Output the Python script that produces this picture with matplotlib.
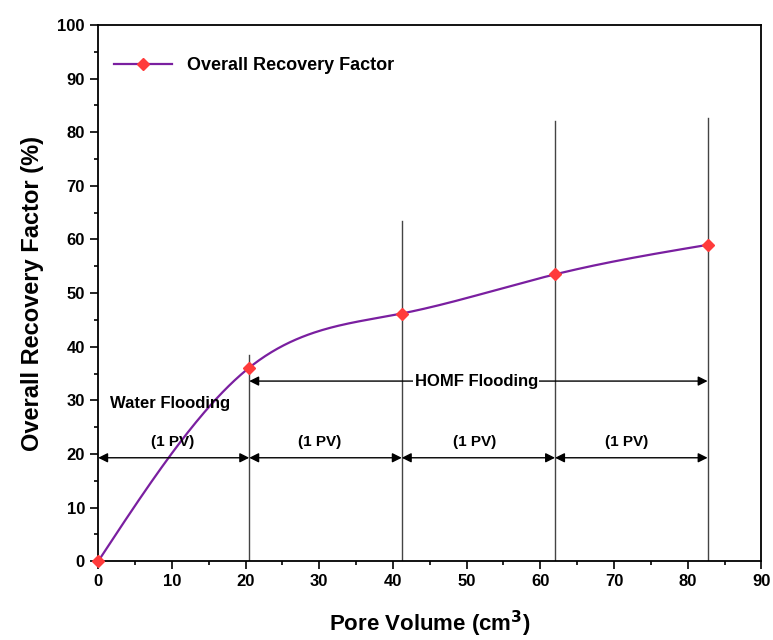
import numpy as np
import matplotlib.pyplot as plt

# data
pore_volume = [0, 20.5, 41.2, 62.0, 82.7]
recovery = [0, 36.1, 46.2, 53.5, 59.0]
line_tops = [38.4, 63.4, 82.1, 82.6]
pv_label_x = [10.1, 30.1, 51.1, 71.7]


def natural_spline(x, y, n=300):
    x = np.asarray(x, float)
    y = np.asarray(y, float)
    k = len(x)
    h = np.diff(x)
    A = np.zeros((k, k))
    b = np.zeros(k)
    A[0, 0] = A[-1, -1] = 1
    for i in range(1, k - 1):
        A[i, i - 1] = h[i - 1]
        A[i, i] = 2 * (h[i - 1] + h[i])
        A[i, i + 1] = h[i]
        b[i] = 6 * ((y[i + 1] - y[i]) / h[i] - (y[i] - y[i - 1]) / h[i - 1])
    m = np.linalg.solve(A, b)
    xs = np.linspace(x[0], x[-1], n)
    idx = np.clip(np.searchsorted(x, xs) - 1, 0, k - 2)
    x0, x1 = x[idx], x[idx + 1]
    hh = x1 - x0
    t0, t1 = x1 - xs, xs - x0
    ys = (m[idx] * t0 ** 3 + m[idx + 1] * t1 ** 3) / (6 * hh) \
        + (y[idx] / hh - m[idx] * hh / 6) * t0 \
        + (y[idx + 1] / hh - m[idx + 1] * hh / 6) * t1
    return xs, ys


plt.rcParams['font.family'] = ['Liberation Sans', 'DejaVu Sans']
plt.rcParams['font.weight'] = 'bold'

fig = plt.figure(figsize=(7.73, 6.4), dpi=100)
ax = fig.add_axes([0.127, 0.123, 0.858, 0.838])

purple = '#7A1FA0'
xs, ys = natural_spline(pore_volume, recovery)
ax.plot(xs, ys, color=purple, lw=1.6, zorder=3)
ax.plot(pore_volume, recovery, 'D', color='#FF3B3B', ms=6, zorder=4, clip_on=False)
# legend proxy
ax.plot([], [], color=purple, lw=1.6, marker='D', mfc='#FF3B3B', mec='#FF3B3B', ms=6,
        label='Overall Recovery Factor')

# vertical separators
for xv, top in zip(pore_volume[1:], line_tops):
    ax.plot([xv, xv], [0, top], color='#444444', lw=1, zorder=2)

arrow = dict(arrowstyle='<|-|>', color='black', lw=1, mutation_scale=14,
             shrinkA=0, shrinkB=0)
bounds = pore_volume
for i in range(4):
    ax.annotate('', xy=(bounds[i], 19.3), xytext=(bounds[i + 1], 19.3), arrowprops=arrow)
    ax.text(pv_label_x[i], 22.2, '(1 PV)', ha='center', va='center', fontsize=11, fontweight='bold')

ax.annotate('', xy=(pore_volume[1], 33.6), xytext=(pore_volume[-1], 33.6), arrowprops=arrow)
ax.text(51.3, 33.6, 'HOMF Flooding', ha='center', va='center', fontsize=12, fontweight='bold',
        bbox=dict(facecolor='white', edgecolor='none', pad=1), zorder=5)
ax.text(9.7, 29.4, 'Water Flooding', ha='center', va='center', fontsize=12, fontweight='bold')

ax.set_xlim(0, 90)
ax.set_ylim(0, 100)
ax.set_xticks(np.arange(0, 91, 10))
ax.set_yticks(np.arange(0, 101, 10))
ax.set_xticks(np.arange(0, 91, 5), minor=True)
ax.set_yticks(np.arange(0, 101, 5), minor=True)
ax.tick_params(which='major', direction='out', length=6, width=1.2, labelsize=12)
ax.tick_params(which='minor', direction='out', length=3, width=1.2)
for lab in ax.get_xticklabels() + ax.get_yticklabels():
    lab.set_fontweight('bold')
for s in ax.spines.values():
    s.set_linewidth(1.3)

ax.set_xlabel('Pore Volume (cm$^\\mathbf{3}$)', fontsize=16, fontweight='bold', labelpad=14)
ax.set_ylabel('Overall Recovery Factor (%)', fontsize=17, fontweight='bold', labelpad=10)

ax.legend(loc='upper left', frameon=False, bbox_to_anchor=(0.0, 0.97),
          handlelength=3.2, prop={'weight': 'bold', 'size': 13})

fig.savefig('out.png', dpi=100)
